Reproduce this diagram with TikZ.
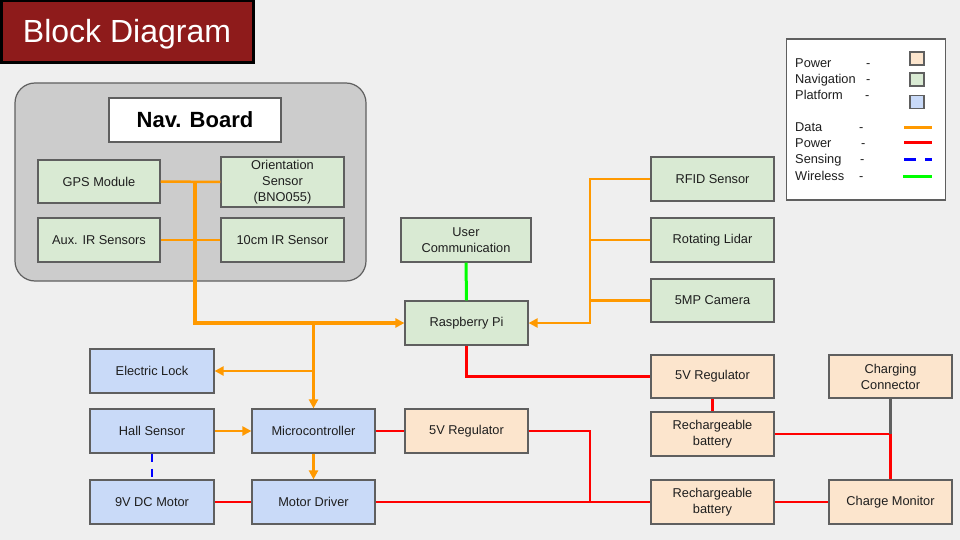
\documentclass[tikz,border=0pt]{standalone}
\usepackage{fontspec}
\setmainfont{Liberation Sans}
\usetikzlibrary{arrows.meta}
\definecolor{bg}{HTML}{EFEFEF}
\definecolor{titlered}{HTML}{8E1B1B}
\definecolor{navfill}{HTML}{D9EAD3}
\definecolor{platfill}{HTML}{C9DAF8}
\definecolor{powfill}{HTML}{FCE5CD}
\definecolor{edge}{HTML}{5F5F5F}
\definecolor{dataline}{HTML}{FF9900}
\definecolor{txt}{HTML}{1E1E1E}
\tikzset{
  box/.style={draw=edge, line width=1.2pt, minimum width=123pt, minimum height=44pt, inner sep=1pt,
    align=center, text=txt, font=\fontsize{12.8}{16}\selectfont},
  navbox/.style={box, fill=navfill},
  platbox/.style={box, fill=platfill},
  powbox/.style={box, fill=powfill},
  data/.style={draw=dataline, line width=2.5pt},
  databold/.style={draw=dataline, line width=3.5pt},
  powline/.style={draw=red, line width=2.5pt},
  wireless/.style={draw=green, line width=3pt},
  sensing/.style={draw=blue, line width=2.5pt, dash pattern=on 8pt off 7pt},
  arr/.style={-{Triangle[length=9pt,width=9pt]}},
  legtext/.style={anchor=base west, text=txt, font=\fontsize{12.8}{15}\selectfont, inner sep=0pt},
  swatch/.style={draw=edge, line width=1.2pt, minimum width=14pt, minimum height=13pt, inner sep=0pt},
}
\begin{document}
\begin{tikzpicture}[x=1pt, y=-1pt]
\useasboundingbox (0,0) rectangle (960,540);
\fill[bg] (0,0) rectangle (960,540);

% title
\node[draw=black, line width=3pt, fill=titlered, minimum width=252pt, minimum height=62pt, inner sep=0pt,
  text height=23pt, text depth=1pt,
  text=white, font=\fontsize{32}{36}\selectfont] (title) at (127,32) {Block Diagram};

% nav board
\node[draw=edge, line width=1.2pt, fill=black!20, rounded corners=20pt, minimum width=351pt, minimum height=198pt] (navboard) at (190.5,182) {};
\node[draw=edge, line width=1.2pt, fill=white, minimum width=172pt, minimum height=44pt,
  font=\bfseries\fontsize{22}{26}\selectfont] (navtitle) at (195,120) {Nav. Board};
\node[navbox, minimum width=122pt, minimum height=43pt] (gps) at (99,181.5) {GPS Module};
\node[navbox, minimum height=50pt] (ori) at (282.5,182) {Orientation\\Sensor\\(BNO055)};
\node[navbox, minimum width=122pt] (aux) at (99,240) {Aux. IR Sensors};
\node[navbox] (ir) at (282.5,240) {10cm IR Sensor};

% right sensors
\node[navbox, minimum width=130pt] (uc) at (466,240) {User\\Communication};
\node[navbox] (pi) at (466.5,323) {Raspberry Pi};
\node[navbox] (rfid) at (712.5,179) {RFID Sensor};
\node[navbox] (lidar) at (712.5,240) {Rotating Lidar};
\node[navbox, minimum height=43pt] (cam) at (712.5,300.5) {5MP Camera};

% platform
\node[platbox, minimum width=124pt] (lock) at (152,371) {Electric Lock};
\node[platbox, minimum width=124pt] (hall) at (152,431) {Hall Sensor};
\node[platbox, minimum width=124pt] (motor) at (152,502) {9V DC Motor};
\node[platbox] (mcu) at (313.5,431) {Microcontroller};
\node[platbox] (md) at (313.5,502) {Motor Driver};

% power
\node[powbox] (reg1) at (466.5,431) {5V Regulator};
\node[powbox, minimum height=43pt] (reg2) at (712.5,376.5) {5V Regulator};
\node[powbox] (bat1) at (712.5,434) {Rechargeable\\battery};
\node[powbox] (bat2) at (712.5,502) {Rechargeable\\battery};
\node[powbox, minimum height=43pt] (conn) at (890.5,376.5) {Charging\\Connector};
\node[powbox] (mon) at (890.5,502) {Charge Monitor};

% data connectors (nav board)
\draw[data] (gps.east) -- (ori.west);
\draw[data] (aux.east) -- (ir.west);
\coordinate (jn) at (195,182);
\draw[databold, arr] (jn) |- (pi.west);
\coordinate (jm) at (mcu.north |- pi.west);
\draw[data, arr] (jm) -- (mcu.north);
\coordinate (jl) at (mcu.north |- lock.east);
\draw[data, arr] (jl) -- (lock.east);
\draw[data, arr] (hall.east) -- (mcu.west);
\draw[data, arr] (mcu.south) -- (md.north);

% data connectors (right sensors)
\coordinate (jr) at (590,179);
\draw[data, arr] (rfid.west) -- (jr) |- (pi.east);
\draw[data] (lidar.west) -- (lidar.west -| jr);
\draw[data] (cam.west) -- (cam.west -| jr);

% wireless
\draw[wireless] (uc.south) -- (pi.north);

% sensing
\draw[sensing] (hall.south) -- (motor.north);

% power connectors
\draw[powline] (pi.south) |- (reg2.west);
\draw[powline] (reg2.south -| bat1.north) -- (bat1.north);
\draw[powline] (bat1.east) -| (mon.north);
\draw[draw=edge, line width=2.5pt] (conn.south) -- (conn.south |- bat1.east);
\draw[powline] (bat2.east) -- (mon.west);
\draw[powline] (mcu.east) -- (reg1.west);
\coordinate (jp) at (590,502);
\draw[powline] (reg1.east) -| (jp);
\draw[powline] (md.east) -- (bat2.west);
\draw[powline] (motor.east) -- (md.west);

% legend
\node[draw=edge, line width=1.2pt, fill=white, minimum width=159pt, minimum height=161pt] (legend) at (866,119.5) {};
\node[legtext] (l1) at (795,68) {Power};
\node[legtext] (l2) at (795,84) {Navigation};
\node[legtext] (l3) at (795,100) {Platform};
\node[legtext] (l4) at (795,132) {Data};
\node[legtext] (l5) at (795,148) {Power};
\node[legtext] (l6) at (795,164) {Sensing};
\node[legtext] (l7) at (795,180) {Wireless};
\node[legtext] (d1) at (866,68) {-};
\node[legtext] (d2) at (866,84) {-};
\node[legtext] (d3) at (865,100) {-};
\node[legtext] (d4) at (859,132) {-};
\node[legtext] (d5) at (861,148) {-};
\node[legtext] (d6) at (860,164) {-};
\node[legtext] (d7) at (859,180) {-};
\node[swatch, fill=powfill] (s1) at (917,58.5) {};
\node[swatch, fill=navfill] (s2) at (917,79.5) {};
\node[swatch, fill=platfill] (s3) at (917,102) {};
\coordinate (la1) at (904,127.5); \coordinate (lb1) at (932,127.5);
\coordinate (la2) at (904,142.5); \coordinate (lb2) at (932,142.5);
\coordinate (la3) at (904,160); \coordinate (lb3) at (932,160);
\coordinate (la4) at (903,177); \coordinate (lb4) at (932,177);
\draw[data, line width=3pt] (la1) -- (lb1);
\draw[powline, line width=3pt] (la2) -- (lb2);
\draw[draw=blue, line width=3pt, dash pattern=on 12pt off 9pt] (la3) -- (lb3);
\draw[wireless] (la4) -- (lb4);
\end{tikzpicture}
\end{document}
